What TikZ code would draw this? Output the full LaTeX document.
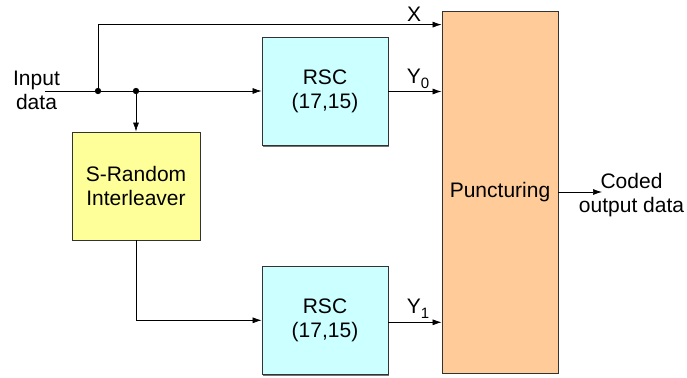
\documentclass[tikz,border=0pt]{standalone}
\usepackage{fontspec}
\setmainfont{Liberation Sans}
\usetikzlibrary{positioning,arrows.meta,shadows}
\definecolor{ilvyellow}{HTML}{FFFF99}
\definecolor{rsccyan}{HTML}{CCFFFF}
\definecolor{puncorange}{HTML}{FFCC99}
\tikzstyle{block}=[
        draw = black!80,
        line width = 0.8pt,
        align = center,
        inner sep = 0pt,
        drop shadow = {shadow xshift=1.2pt, shadow yshift=-1.2pt, fill=black!55, opacity=1}
    ]
\tikzstyle{rsc box}=[block, fill = rsccyan, minimum width = 126pt, minimum height = 108pt]
\newcommand{\ysub}[1]{\raisebox{-0.45ex}{\fontsize{15}{15}\selectfont #1}}

\begin{document}
\begin{tikzpicture}[x=1pt, y=-1pt, >={Latex[length=9pt,width=6pt]},
        line width = 0.7pt, font = \fontsize{21}{24}\selectfont,
        dot/.style = {circle, fill, draw, inner sep = 0pt, minimum size = 5.5pt}]
        \useasboundingbox (0,0) rectangle (687,377);

        % blocks
        \node[rsc box] (rsc1) at (325,91.5) {RSC\\(17,15)};
        \node[rsc box] (rsc2) [below=120pt of rsc1] {RSC\\(17,15)};
        \node[block, fill = ilvyellow, minimum width = 128pt, minimum height = 108pt] (ilv) at (136,186) {S-Random\\Interleaver};
        \node[block, fill = puncorange, minimum width = 116pt, minimum height = 362pt] (punc) at (500,192) {Puncturing};

        % input side
        \node[align = center] (inp) at (36.5,90) {Input\\data};
        \coordinate (in) at (45,91);
        \node[dot] (j1) at (98,91) {};
        \node[dot] (j2) at (ilv.north |- in) {};

        \draw (in) -- (j1);
        \draw (j1) -- (j2);
        \draw[->] (j2) -- (rsc1.west |- in);
        \draw[->] (j2) -- (ilv.north);
        \draw[->] (j1) |- ([yshift=-14pt]punc.north west) node [pos=0.96, above, inner sep=3pt] {X};
        \draw[->] (ilv.south) |- (rsc2.west);

        % encoder outputs
        \draw[->] (rsc1.east) -- (rsc1.east -| punc.west) node [midway, above, xshift=3pt, inner sep=3pt] {Y\ysub{0}};
        \draw[->] ([yshift=-2pt]rsc2.east) -- ([yshift=-2pt]rsc2.east -| punc.west) node [midway, above, xshift=3pt, inner sep=3pt] {Y\ysub{1}};

        % output
        \coordinate (outend) at (602,192);
        \draw[->] (punc.east) -- (outend);
        \node[align = center] (out) at (631.5,195) {Coded\\output data};
    \end{tikzpicture}
\end{document}
